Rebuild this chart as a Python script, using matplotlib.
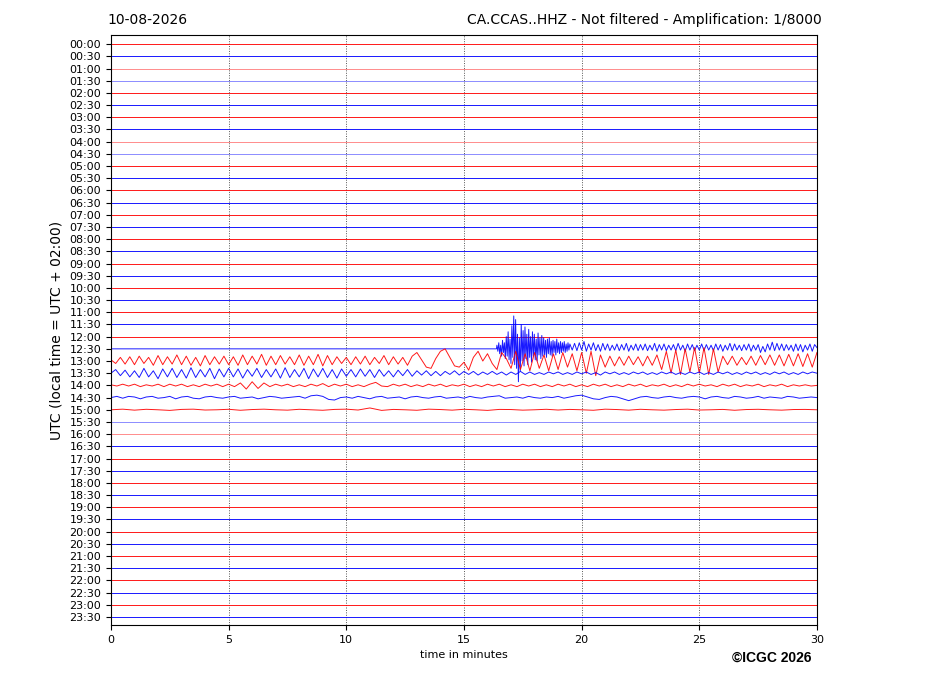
import numpy as np
import matplotlib
matplotlib.use("Agg")
import matplotlib.pyplot as plt

# ---------------- data ----------------
row_labels = [f"{h:02d}:{m:02d}" for h in range(24) for m in (0, 30)]
x_ticks = [0, 5, 10, 15, 20, 25, 30]
trace_colors = ["red", "blue"]
light_rows = ["01:00", "01:30", "04:00", "04:30", "15:30", "16:00"]

# amplitudes in units of trace spacing (positive = up)
# 12:30 trace: quiet until 16.4 min, then the earthquake
burst_start = 16.4
burst_strong_end = 19.5
# strong part, 16.4 .. 19.5 min
trace_1230_strong = [
    0.3, -0.2, 0.5, -0.4, 0.3, -0.6, 0.7, -0.3, 0.5, -0.8,
    1.0, -0.6, 1.4, -0.9, 0.8, -1.2, 1.9, -0.7, 2.7, -1.3,
    2.4, -1.6, 1.2, -2.7, 0.9, -1.8, 2.0, -1.0, 1.5, -1.4,
    1.8, -0.8, 1.2, -1.3, 1.6, -0.7, 1.0, -1.1, 1.4, -0.6,
    1.2, -0.9, 0.8, -1.0, 1.3, -0.5, 0.9, -0.8, 1.1, -0.6,
    0.9, -0.5, 0.7, -0.7, 0.8, -0.4, 0.9, -0.5, 0.6, -0.6,
    0.7, -0.3, 0.6, -0.5, 0.8, -0.3, 0.5, -0.4, 0.6, -0.3,
    0.5, -0.2, 0.6, -0.3, 0.4, -0.2, 0.5, -0.1,
]
# coda, 19.5 .. 30 min
trace_1230_coda = [
    0.4, -0.1, 0.45, -0.15, 0.5, -0.1, 0.6, -0.2, 0.4, -0.1,
    0.5, -0.15, 0.35, -0.2, 0.45, -0.1, 0.4, -0.15, 0.3, -0.1,
    0.4, -0.15, 0.35, -0.1, 0.45, -0.2, 0.3, -0.1, 0.4, -0.15,
    0.35, -0.1, 0.4, -0.15, 0.3, -0.1, 0.45, -0.2, 0.35, -0.1,
    0.4, -0.15, 0.3, -0.1, 0.35, -0.15, 0.45, -0.1, 0.3, -0.2,
    0.4, -0.1, 0.35, -0.15, 0.3, -0.1, 0.4, -0.15, 0.35, -0.1,
    0.3, -0.15, 0.4, -0.1, 0.35, -0.2, 0.3, -0.1, 0.45, -0.15,
    0.4, -0.1, 0.3, -0.15, 0.35, -0.1, 0.4, -0.2, 0.3, -0.1,
    0.35, -0.3, 0.2, -0.25, 0.4, -0.1, 0.55, -0.15, 0.45, -0.1,
    0.4, -0.15, 0.35, -0.1, 0.3, -0.2, 0.4, -0.15, 0.35, -0.25,
    0.3, -0.1, 0.4, -0.2, 0.35, 0.1,
]

trace_1300 = [
    0.1, -0.2, 0.3, -0.25, 0.35, -0.3, 0.4, -0.2, 0.3, -0.35, 0.45, -0.3, 0.35,
    -0.25, 0.5, -0.3, 0.4, -0.35, 0.3, -0.4, 0.45, -0.3, 0.35, -0.25, 0.4,
    -0.3, 0.35, -0.35, 0.5, -0.3, 0.4, -0.25, 0.55, -0.35, 0.4, -0.3, 0.45, -0.25,
    0.35, -0.3, 0.5, -0.35, 0.4, -0.3, 0.55, -0.4, 0.45, -0.3, 0.35, -0.2,
    0.3, -0.3, 0.35, -0.25, 0.4, -0.3, 0.3, -0.2, 0.45, -0.3, 0.35, -0.25, 0.3,
    -0.35, 0.4, 0.7, 0.1, -0.5, -0.6, 0.2, 0.8, 1.0, 0.3, -0.4, -0.5,
    -0.1, -0.75, 0.3, 0.8, 0.0, 0.6, -0.2, -0.7, 0.7, 0.2, -0.6, 0.8, -0.7,
    0.6, -0.8, 0.7, -0.6, 0.5, -0.8, 0.6, -0.7, 0.7, -0.5, 0.6, -0.8,
    0.7, -1.0, 0.8, -1.2, 0.5, -0.5, 0.4, -0.4, 0.35, -0.35, 0.4, -0.3, 0.35,
    -0.4, 0.4, -0.35, 0.5, -0.7, 0.8, -1.0, 0.9, -1.1, 1.0, -0.9, 1.1,
    -1.0, 1.1, -1.1, 1.0, -0.9, 0.4, -0.3, 0.4, -0.35, 0.3, -0.3, 0.4, -0.35,
    0.45, -0.3, 0.5, -0.35, 0.5, -0.4, 0.55, -0.4, 0.6, -0.45, 0.6, -0.5, 0.7,
]

trace_1330 = [
    0.0, 0.3, -0.2, 0.25, -0.3, 0.2, -0.35, 0.4, -0.3, 0.2, -0.45, 0.35, -0.3,
    0.4, -0.35, 0.3, -0.4, 0.45, -0.35, 0.3, -0.3, 0.4, -0.45, 0.35, -0.3,
    0.4, -0.3, 0.35, -0.4, 0.3, -0.25, 0.4, -0.35, 0.3, -0.3, 0.35, -0.4, 0.45,
    -0.35, 0.3, -0.3, 0.4, -0.45, 0.35, -0.3, 0.4, -0.35, 0.3, -0.4, 0.35,
    -0.25, 0.3, -0.3, 0.35, -0.25, 0.3, -0.35, 0.3, -0.25, 0.2, -0.3, 0.25, -0.2,
    0.3, -0.25, 0.2, -0.15, 0.2, -0.2, 0.15, -0.2, 0.15, -0.1, 0.2, -0.15,
    0.15, -0.1, 0.15, -0.15, 0.1, -0.1, 0.15, -0.1, 0.1, -0.15, 0.1, -0.1, 0.15,
    -0.1, 0.1, -0.1, 0.05, -0.1, 0.1, -0.05, 0.1, -0.1, 0.05, -0.1, 0.1,
    -0.05, 0.1, -0.1, 0.05, -0.15, 0.1, -0.05, 0.1, -0.1, 0.05, -0.1, 0.1, -0.05,
    0.1, -0.1, 0.05, -0.1, 0.1, -0.05, 0.1, -0.1, 0.05, -0.1, 0.1, -0.05,
    0.1, -0.1, 0.05, -0.1, 0.1, -0.05, 0.1, -0.1, 0.05, -0.1, 0.1, -0.05, 0.1,
    -0.1, 0.05, -0.1, 0.1, -0.05, 0.1, -0.1, 0.05, -0.1, 0.1, -0.05, 0.1, 0.0,
]

trace_1400 = [
    0.05, -0.05, 0.1, -0.05, 0.1, -0.1, 0.05, -0.05, 0.1, -0.1,
    0.1, -0.05, 0.1, -0.1, 0.05, -0.1, 0.1, -0.05, 0.1, -0.1,
    0.1, -0.1, 0.2, -0.3, 0.3, -0.25, 0.2, -0.1, 0.1, -0.05,
    0.1, -0.1, 0.05, -0.1, 0.1, -0.05, 0.15, -0.1, 0.1, -0.05,
    0.1, -0.1, 0.05, -0.1, 0.1, 0.25, -0.05, -0.1, 0.1, -0.05,
    0.1, -0.1, 0.05, -0.1, 0.1, -0.05, 0.1, -0.1, 0.05, -0.05,
    0.1, -0.1, 0.05, -0.1, 0.1, -0.05, 0.1, -0.1, 0.05, -0.1,
    0.1, -0.05, 0.1, -0.1, 0.05, -0.1, 0.1, -0.05, 0.1, -0.1,
    0.05, -0.1, 0.1, -0.05, 0.1, -0.1, 0.05, -0.1, 0.1, -0.05,
    0.1, -0.1, 0.05, -0.05, 0.1, -0.1, 0.05, -0.1, 0.1, -0.05,
    0.1, -0.05, 0.05, -0.1, 0.1, -0.05, 0.1, -0.1, 0.05, -0.05,
    0.1, -0.1, 0.05, -0.05, 0.1, -0.1, 0.05, -0.05, 0.05, -0.05, 0.0,
]

trace_1430 = [
    0.0, 0.1, -0.05, 0.1, 0.05, -0.1, 0.05, 0.1, -0.05, 0.0,
    0.1, -0.1, 0.05, 0.1, -0.05, -0.1, 0.05, 0.1, 0.0, -0.05,
    0.05, 0.1, -0.05, 0.0, 0.05, -0.1, 0.0, 0.1, 0.05, -0.05,
    0.0, 0.05, 0.1, -0.05, 0.15, 0.2, 0.1, -0.15, -0.2, 0.0,
    0.05, -0.05, 0.1, 0.0, -0.1, 0.05, 0.1, -0.05, 0.0, 0.05,
    -0.1, 0.05, 0.1, 0.0, -0.05, 0.05, 0.1, -0.05, 0.0, 0.05,
    -0.05, 0.1, 0.0, -0.05, 0.05, 0.1, 0.15, -0.05, 0.0, 0.05,
    -0.05, 0.1, 0.0, -0.05, 0.05, 0.0, 0.1, -0.05, 0.05, 0.15,
    0.2, 0.05, -0.1, -0.15, 0.0, 0.1, 0.05, -0.1, -0.25, -0.1,
    0.05, 0.1, 0.0, -0.05, 0.05, 0.1, 0.0, -0.05, 0.05, 0.1,
    0.05, -0.1, 0.05, 0.1, 0.0, -0.05, 0.1, 0.05, -0.05, 0.0,
    0.1, -0.05, 0.05, 0.0, -0.05, 0.1, 0.05, -0.05, 0.0, 0.05, 0.0,
]

trace_1500 = [
    0.0, 0.05, -0.03, 0.04, 0.0, -0.05, 0.03, 0.05, -0.02, 0.0, 0.04, -0.04,
    0.02, 0.05, 0.0, -0.03, 0.04, 0.0, -0.04, 0.03, 0.05, -0.02, 0.15, -0.05,
    0.03, 0.0, -0.04, 0.05, 0.02, -0.03, 0.04, 0.0, -0.05, 0.03, 0.02, -0.03,
    0.0, 0.04, -0.02, 0.03, 0.0, -0.04, 0.05, 0.02, -0.03, 0.04, 0.0, -0.03,
    0.02, 0.05, -0.02, 0.0, 0.03, -0.04, 0.02, 0.04, 0.0, -0.03, 0.02, 0.03, 0.0,
]

# ---------------- figure ----------------
fig = plt.figure(figsize=(9.27, 6.96), dpi=100)
ax = fig.add_axes([0.1197, 0.102, 0.7616, 0.8475])

n_rows = len(row_labels)
active = {"13:00": trace_1300, "13:30": trace_1330, "14:00": trace_1400,
          "14:30": trace_1430, "15:00": trace_1500}

for i, lab in enumerate(row_labels):
    color = trace_colors[i % 2]
    alpha = 0.45 if lab in light_rows else 0.9
    if lab == "12:30":
        s = np.array(trace_1230_strong)
        c = np.array(trace_1230_coda)
        t_s = np.linspace(burst_start, burst_strong_end, len(s), endpoint=False)
        t_c = np.linspace(burst_strong_end, 30, len(c))
        t = np.concatenate([[0.0, burst_start - 0.02], t_s, t_c])
        v = np.concatenate([[0.0, 0.0], s, c])
    elif lab in active:
        v = np.array(active[lab])
        t = np.linspace(0, 30, len(v))
    else:
        t = np.array([0.0, 30.0])
        v = np.array([0.0, 0.0])
    ax.plot(t, i - v, color=color, lw=0.7, alpha=alpha)

for xv in x_ticks[1:-1]:
    ax.axvline(xv, color="#555555", lw=0.7, ls=(0, (1, 1.5)), zorder=0)

ax.set_xlim(0, 30)
ax.set_ylim(n_rows - 1 + 0.66, -0.74)
ax.set_xticks(x_ticks)
ax.set_yticks(range(n_rows))
ax.set_yticklabels(row_labels)
ax.tick_params(axis="both", labelsize=8)
ax.set_xlabel("time in minutes", fontsize=8)
ax.set_ylabel("UTC (local time = UTC + 02:00)", fontsize=10)

fig.text(0.1155, 0.971, "10-08-2026", fontsize=10, ha="left", va="center")
fig.text(0.887, 0.971, "CA.CCAS..HHZ - Not filtered - Amplification: 1/8000",
         fontsize=10, ha="right", va="center")
fig.text(0.875, 0.0546, "\u00a9ICGC 2026", fontsize=10, fontweight="bold",
         family=["Liberation Sans", "DejaVu Sans"], ha="right", va="center")

fig.savefig("out.png", dpi=100)
